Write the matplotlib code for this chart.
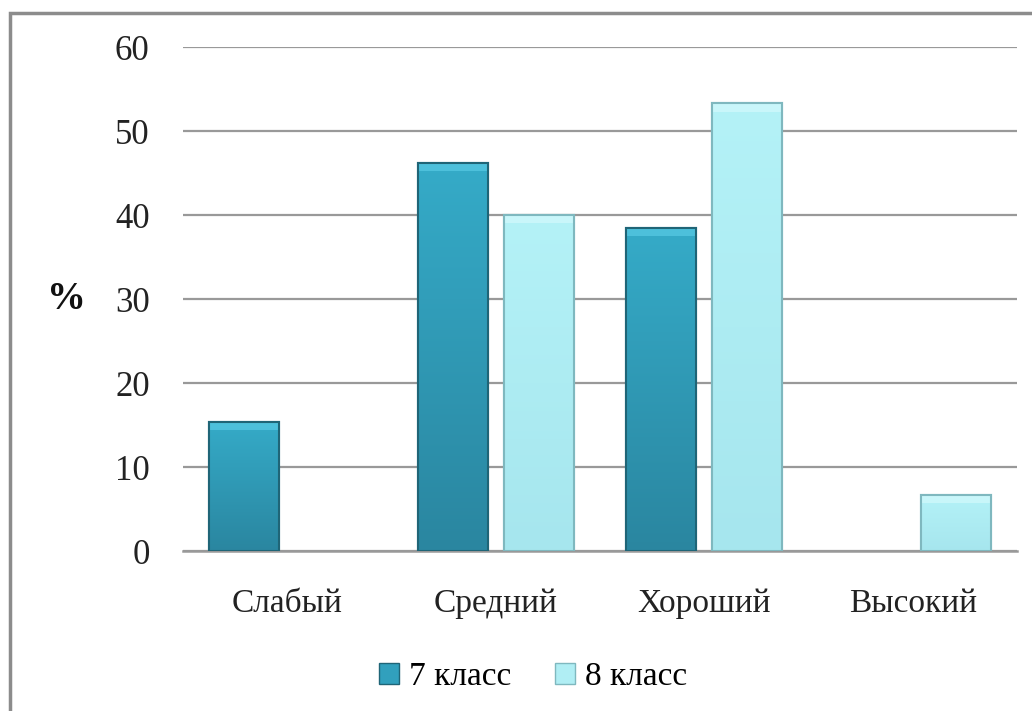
import matplotlib
matplotlib.use("Agg")
import matplotlib.pyplot as plt
import numpy as np
from matplotlib.patches import Rectangle
from matplotlib.colors import LinearSegmentedColormap

categories = ["Слабый", "Средний", "Хороший", "Высокий"]
series_names = ["7 класс", "8 класс"]
values_7 = [15.4, 46.2, 38.5, 0]
values_8 = [0, 40.0, 53.3, 6.7]
yticks = [0, 10, 20, 30, 40, 50, 60]

plt.rcParams['font.family'] = ['Liberation Serif', 'DejaVu Serif']

fig = plt.figure(figsize=(10.32, 7.11), dpi=100)
fig.patch.set_facecolor('white')
# outer border
fig.add_artist(Rectangle((10/1032, -0.1), 1.2, 1 - 13/711 + 0.1, transform=fig.transFigure,
                         fill=False, edgecolor='#8c8c8c', linewidth=2.5))

ax = fig.add_axes([183/1032, 1 - 551/711, (1017 - 183)/1032, (551 - 47)/711])
ax.set_xlim(-0.5, 3.5)
ax.set_ylim(0, 60)
ax.set_yticks(yticks)
ax.set_yticklabels([str(t) for t in yticks], fontsize=25, color='#222222')
ax.tick_params(axis='y', length=0, pad=24)
ax.tick_params(axis='x', length=0, pad=27)
ax.set_xticks(range(len(categories)))
ax.set_xticklabels(categories, fontsize=24, color='#222222')
for s in ['top', 'right', 'left']:
    ax.spines[s].set_visible(False)
ax.spines['bottom'].set_color('#999999')
ax.spines['bottom'].set_linewidth(1.8)
ax.yaxis.grid(True, color='#999999', linewidth=1.6)
ax.set_axisbelow(True)

fig.text(66/1032, 1 - 300/711, '%', fontsize=28, fontweight='bold', ha='center', va='center',
         color='#111111')

w = 0.336
off = 0.206
x = np.arange(len(categories))

cmap7 = LinearSegmentedColormap.from_list('c7', ['#2a86a0', '#35abc8'])
cmap8 = LinearSegmentedColormap.from_list('c8', ['#a6e6ee', '#b4f2f7'])

def grad_bars(xs, vals, cmap, face, edge, hl, label):
    bars = ax.bar(xs, vals, w, color=face, edgecolor=edge, linewidth=1.5, label=label, zorder=2)
    grad = np.linspace(0, 1, 256).reshape(-1, 1)
    for b in bars:
        h = b.get_height()
        if h <= 0:
            b.set_visible(False)
            continue
        x0 = b.get_x()
        im = ax.imshow(grad, cmap=cmap, aspect='auto', origin='lower',
                       extent=(x0, x0 + w, 0, h), zorder=2.5)
        im.set_clip_path(b)
        # top highlight bevel
        ax.add_patch(Rectangle((x0, h - 1.0), w, 1.0, facecolor=hl, alpha=0.6,
                               edgecolor='none', zorder=3))
        ax.add_patch(Rectangle((x0, 0), w, h, fill=False, edgecolor=edge, linewidth=1.5, zorder=3.5))
    return bars

b7 = grad_bars(x - off, values_7, cmap7, '#31a0bd', '#1f6577', '#5fd0ea', series_names[0])
b8 = grad_bars(x + off, values_8, cmap8, '#b0eef4', '#7fb8bf', '#d8fbfd', series_names[1])
ax.set_xlim(-0.5, 3.5)
ax.set_ylim(0, 60)

h7 = Rectangle((0, 0), 1, 1, facecolor='#31a0bd', edgecolor='#1f6577')
h8 = Rectangle((0, 0), 1, 1, facecolor='#b0eef4', edgecolor='#7fb8bf')
fig.legend([h7, h8], series_names, loc='center', bbox_to_anchor=(533/1032, 1 - 677/711),
           ncol=2, frameon=False, fontsize=24, handlelength=0.6, handleheight=0.6,
           handletextpad=0.3, columnspacing=1.3)

fig.savefig('out.png', dpi=100, facecolor='white')
